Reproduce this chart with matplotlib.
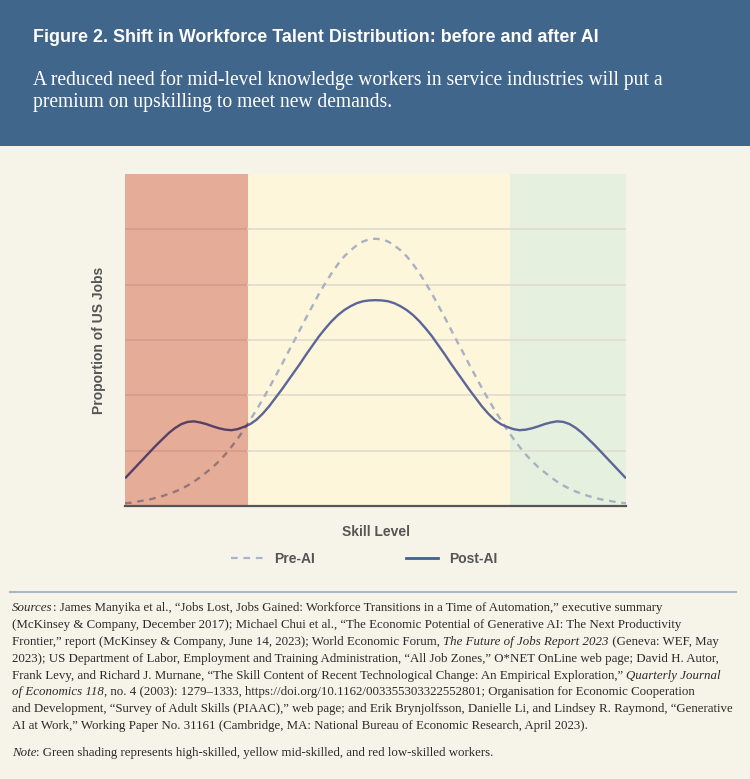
import numpy as np
import matplotlib
matplotlib.use('Agg')
import matplotlib.pyplot as plt
from matplotlib.lines import Line2D
from matplotlib.patches import Rectangle

plt.rcParams['font.family'] = ['Liberation Sans', 'DejaVu Sans']

# skill level sample points (0 = lowest, 10 = highest), step 0.125
skill = np.linspace(0, 10, 81)

pre_ai = [0.05, 0.06, 0.08, 0.10, 0.12, 0.15, 0.18, 0.22, 0.26, 0.31,
          0.37, 0.44, 0.52, 0.61, 0.70, 0.81, 0.93, 1.07, 1.22, 1.38,
          1.56, 1.74, 1.93, 2.13, 2.34, 2.55, 2.77, 2.98, 3.20, 3.42,
          3.63, 3.84, 4.03, 4.21, 4.37, 4.51, 4.62, 4.71, 4.78, 4.82,
          4.83,
          4.82, 4.78, 4.71, 4.62, 4.51, 4.37, 4.21, 4.03, 3.84, 3.63,
          3.42, 3.20, 2.98, 2.77, 2.55, 2.34, 2.13, 1.93, 1.74, 1.56,
          1.38, 1.22, 1.07, 0.93, 0.81, 0.70, 0.61, 0.52, 0.44, 0.37,
          0.31, 0.26, 0.22, 0.18, 0.15, 0.12, 0.10, 0.08, 0.06, 0.05]

post_ai = [0.50, 0.62, 0.74, 0.86, 0.98, 1.10, 1.21, 1.32, 1.41, 1.48,
           1.52, 1.53, 1.51, 1.48, 1.44, 1.405, 1.38, 1.37, 1.39, 1.43,
           1.48, 1.56, 1.67, 1.80, 1.95, 2.10, 2.26, 2.42, 2.58, 2.75,
           2.91, 3.07, 3.21, 3.34, 3.45, 3.54, 3.61, 3.665, 3.70, 3.715,
           3.72,
           3.715, 3.70, 3.665, 3.61, 3.54, 3.45, 3.34, 3.21, 3.07, 2.91,
           2.75, 2.58, 2.42, 2.26, 2.10, 1.95, 1.80, 1.67, 1.56, 1.48,
           1.43, 1.39, 1.37, 1.38, 1.405, 1.44, 1.48, 1.51, 1.53, 1.52,
           1.48, 1.41, 1.32, 1.21, 1.10, 0.98, 0.86, 0.74, 0.62, 0.50]

# skill bands: low / mid / high
low_end = 2.46
high_start = 7.68
series_names = ['Pre-AI', 'Post-AI']

title = 'Figure 2. Shift in Workforce Talent Distribution: before and after AI'
subtitle = ['A reduced need for mid-level knowledge workers in service industries will put a',
            'premium on upskilling to meet new demands.']

W, H = 750, 779
bg = '#f6f4e9'
fig = plt.figure(figsize=(W / 100, H / 100), dpi=100, facecolor=bg)


def fy(y):
    return 1 - y / H


# header band
fig.patches.append(Rectangle((0, fy(146)), 1, 146 / H, transform=fig.transFigure,
                             facecolor='#41668c', edgecolor='none', zorder=0))
fig.text(33 / W, fy(37), title, color='white', fontsize=12.9, fontweight='bold',
         va='center', ha='left')
for i, line in enumerate(subtitle):
    fig.text(33 / W, fy(80 + 23 * i), line, color='white', fontsize=14.1,
             family=['Liberation Serif', 'DejaVu Serif'], va='center', ha='left')

# chart
ax = fig.add_axes([125 / W, 1 - 506 / H, 501 / W, 332 / H])
ax.set_facecolor('none')
ax.set_xlim(0, 10)
ax.set_ylim(0, 6)

ax.axvspan(0, low_end, color='#e5ac98', lw=0, zorder=0)
ax.axvspan(low_end, high_start, color='#fdf6db', lw=0, zorder=0)
ax.axvspan(high_start, 10, color='#e6f0de', lw=0, zorder=0)

for g in [1, 2, 3, 4, 5]:
    ax.plot([0, low_end], [g, g], color='#d39c89', lw=1.2, zorder=1)
    ax.plot([low_end, 10], [g, g], color='#e0dccb', lw=1.2, zorder=1)

low_clip = Rectangle((0, 0), low_end, 6, transform=ax.transData)
rest_clip = Rectangle((low_end, 0), 10 - low_end, 6, transform=ax.transData)

# pre-AI dashed
for clip, col in [(low_clip, '#95777a'), (rest_clip, '#a8b1c4')]:
    ln, = ax.plot(skill, pre_ai, color=col, lw=1.7, dashes=(2.8, 2.4), zorder=2)
    ln.set_clip_path(clip)
# post-AI solid
for clip, col in [(low_clip, '#573f66'), (rest_clip, '#5c6597')]:
    ln, = ax.plot(skill, post_ai, color=col, lw=1.7, zorder=3, solid_capstyle='butt')
    ln.set_clip_path(clip)

for s in ['top', 'right', 'left']:
    ax.spines[s].set_visible(False)
ax.spines['bottom'].set_color('#555555')
ax.spines['bottom'].set_linewidth(1.6)
ax.spines['bottom'].set_zorder(4)
ax.set_xticks([])
ax.set_yticks([])

ax.set_xlabel('Skill Level', fontsize=10, fontweight='bold', color='#555555')
ax.xaxis.set_label_coords(0.5, -0.058)
ax.set_ylabel('Proportion of US Jobs', fontsize=10, fontweight='bold', color='#555555')
ax.yaxis.set_label_coords(-0.038, 0.5)

handles = [Line2D([], [], color='#a8b4c8', lw=1.6, dashes=(3, 2.6)),
           Line2D([], [], color='#41628c', lw=2.0)]
leg = ax.legend(handles, series_names, loc='center', bbox_to_anchor=(0.477, -0.16),
                ncol=2, frameon=False, handlelength=2.3, handletextpad=0.8,
                columnspacing=6.6, prop={'weight': 'bold', 'size': 10})
for t in leg.get_texts():
    t.set_color('#555555')

# separator
fig.add_artist(Line2D([10 / W, 736 / W], [fy(592), fy(592)], color='#a9b8c8', lw=1.5))

# sources and note
renderer = fig.canvas.get_renderer()
serif = ['Liberation Serif', 'DejaVu Serif']


def rich_line(x, y, parts):
    for text, style in parts:
        t = fig.text(x / W, fy(y), text, style=style, family=serif, fontsize=9.25,
                     color='#2a2a2a', va='center', ha='left')
        x += t.get_window_extent(renderer).width


n, i = 'normal', 'italic'
source_lines = [
    [('Sources', i), (': James Manyika et al., \u201cJobs Lost, Jobs Gained: Workforce Transitions in a Time of Automation,\u201d executive summary', n)],
    [('(McKinsey & Company, December 2017); Michael Chui et al., \u201cThe Economic Potential of Generative AI: The Next Productivity', n)],
    [('Frontier,\u201d report (McKinsey & Company, June 14, 2023); World Economic Forum, ', n), ('The Future of Jobs Report 2023', i), (' (Geneva: WEF, May', n)],
    [('2023); US Department of Labor, Employment and Training Administration, \u201cAll Job Zones,\u201d O*NET OnLine web page; David H. Autor,', n)],
    [('Frank Levy, and Richard J. Murnane, \u201cThe Skill Content of Recent Technological Change: An Empirical Exploration,\u201d ', n), ('Quarterly Journal', i)],
    [('of Economics 118', i), (', no. 4 (2003): 1279\u20131333, https://doi.org/10.1162/003355303322552801; Organisation for Economic Cooperation', n)],
    [('and Development, \u201cSurvey of Adult Skills (PIAAC),\u201d web page; and Erik Brynjolfsson, Danielle Li, and Lindsey R. Raymond, \u201cGenerative', n)],
    [('AI at Work,\u201d Working Paper No. 31161 (Cambridge, MA: National Bureau of Economic Research, April 2023).', n)],
]
for k, parts in enumerate(source_lines):
    rich_line(12, 608 + 16.9 * k, parts)
rich_line(12, 753, [('Note', i), (': Green shading represents high-skilled, yellow mid-skilled, and red low-skilled workers.', n)])

fig.savefig('out.png', dpi=100, facecolor=bg)
